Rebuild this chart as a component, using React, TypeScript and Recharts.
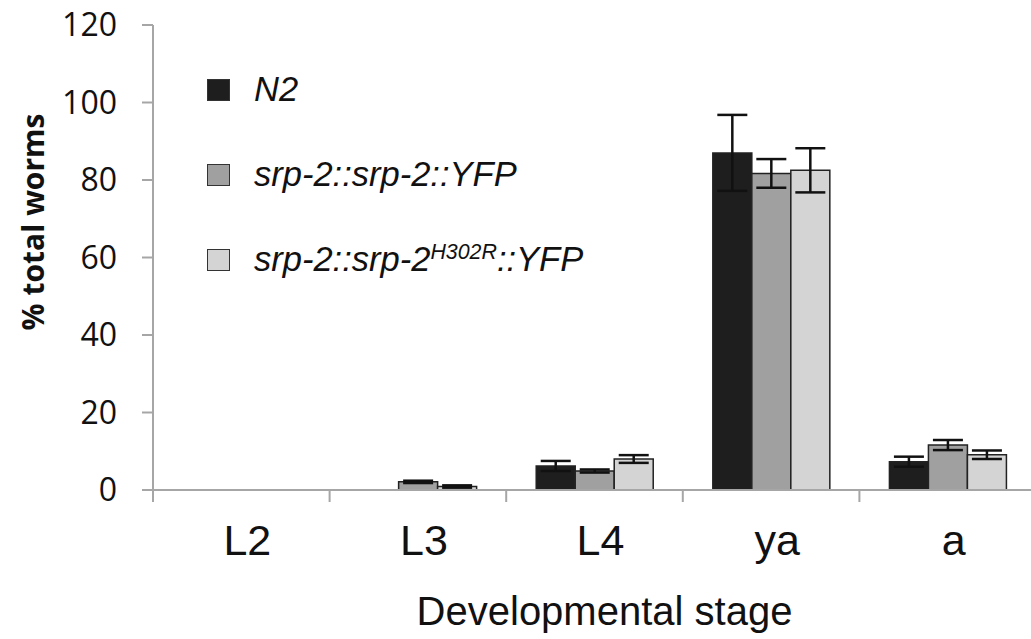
import React from 'react';
import { BarChart, Bar, XAxis, YAxis, ErrorBar, Legend, Label } from 'recharts';

const stages = ['L2', 'L3', 'L4', 'ya', 'a'];
const n2Values = [0, 0, 6.2, 87, 7.3];
const n2Errors = [null, null, 1.3, 9.8, 1.3];
const wtValues = [0, 2.1, 4.9, 81.7, 11.6];
const wtErrors = [null, 0.3, 0.4, 3.7, 1.3];
const mutValues = [0, 0.9, 8.0, 82.5, 9.1];
const mutErrors = [null, 0.3, 1.0, 5.7, 1.1];
const yTicks = [0, 20, 40, 60, 80, 100, 120];

const chartData = stages.map((stage, i) => ({
  stage,
  n2: n2Values[i],
  n2Err: n2Errors[i],
  wt: wtValues[i],
  wtErr: wtErrors[i],
  mut: mutValues[i],
  mutErr: mutErrors[i],
}));

const CHART_W = 1036;
const CHART_H = 639;
const LEFT = 153;
const AXIS_GREY = '#a6a6a6';

const legendLabels: Record<string, React.ReactNode> = {
  n2: 'N2',
  wt: 'srp-2::srp-2::YFP',
  mut: (
    <>
      srp-2::srp-2<sup style={{ fontSize: '0.62em', verticalAlign: '0.55em' }}>H302R</sup>::YFP
    </>
  ),
};

const renderLegend = (props: any) => {
  const { payload } = props;
  return (
    <div>
      {payload.map((entry: any) => (
        <div
          key={entry.dataKey}
          style={{ display: 'flex', alignItems: 'center', height: 85, fontFamily: 'Liberation Sans, Arial, sans-serif', fontStyle: 'italic', fontSize: 34.5, color: '#111' }}
        >
          <span
            style={{ width: 21, height: 20, background: entry.color, border: '1.5px solid #333', marginRight: 24, flex: 'none' }}
          />
          <span style={{ whiteSpace: 'nowrap' }}>{legendLabels[entry.dataKey]}</span>
        </div>
      ))}
    </div>
  );
};

const StageTick = (props: any) => {
  const { x, y, payload, index } = props;
  const half = payload.offset || (CHART_W - LEFT) / stages.length / 2;
  return (
    <g>
      <line x1={x - half} y1={y} x2={x - half} y2={y + 12} stroke={AXIS_GREY} strokeWidth={2} />
      {index === stages.length - 1 && (
        <line x1={x + half} y1={y} x2={x + half} y2={y + 12} stroke={AXIS_GREY} strokeWidth={2} />
      )}
      <text x={x + 6} y={y + 65} textAnchor="middle" fontFamily="Liberation Sans, Arial" fontSize={43} fill="#111">
        {payload.value}
      </text>
    </g>
  );
};

const App: React.FC = () => {
  return (
    <div style={{ position: 'absolute', left: 0, top: 0, width: 1031, height: CHART_H, overflow: 'hidden', background: '#fff' }}>
      <BarChart
        width={CHART_W}
        height={CHART_H}
        data={chartData}
        margin={{ top: 25, right: 0, left: 0, bottom: 0 }}
        barCategoryGap="17%"
        barGap={0}
      >
        <XAxis
          dataKey="stage"
          height={149}
          tickSize={0}
          tickMargin={0}
          tickLine={false}
          axisLine={{ stroke: AXIS_GREY, strokeWidth: 2 }}
          tick={<StageTick />}
          interval={0}
        >
          <Label
            content={(p: any) => {
              const vb = p.viewBox;
              return (
                <text x={vb.x + vb.width / 2 + 10} y={625} textAnchor="middle" fontFamily="Liberation Sans, Arial" fontSize={40} fill="#111">
                  Developmental stage
                </text>
              );
            }}
          />
        </XAxis>
        <YAxis
          width={LEFT}
          domain={[0, 120]}
          ticks={yTicks}
          interval={0}
          tickSize={11}
          tickMargin={25}
          axisLine={{ stroke: AXIS_GREY, strokeWidth: 2 }}
          tickLine={{ stroke: AXIS_GREY, strokeWidth: 2 }}
          tick={{ fontFamily: 'Open Sans', fontSize: 32, fill: '#111' }}
        >
          <Label
            content={() => (
              <text transform="translate(44,222) rotate(-90)" textAnchor="middle" fontFamily="Open Sans" fontWeight="bold" fontSize={30} fill="#111">
                % total worms
              </text>
            )}
          />
        </YAxis>
        <Legend
          content={renderLegend}
          layout="horizontal"
          verticalAlign="middle"
          align="center"
          wrapperStyle={{ position: 'absolute', left: 207, top: 47, width: 440 }}
        />
        <Bar dataKey="n2" name="N2" fill="#1e1e1e" stroke="#222" strokeWidth={1.5} isAnimationActive={false}>
          <ErrorBar dataKey="n2Err" width={15} stroke="#111" strokeWidth={2.5} />
        </Bar>
        <Bar dataKey="wt" name="srp-2::srp-2::YFP" fill="#a0a0a0" stroke="#222" strokeWidth={1.5} isAnimationActive={false}>
          <ErrorBar dataKey="wtErr" width={15} stroke="#111" strokeWidth={2.5} />
        </Bar>
        <Bar dataKey="mut" name="srp-2::srp-2H302R::YFP" fill="#d4d4d4" stroke="#222" strokeWidth={1.5} isAnimationActive={false}>
          <ErrorBar dataKey="mutErr" width={15} stroke="#111" strokeWidth={2.5} />
        </Bar>
      </BarChart>
    </div>
  );
};

export default App;
